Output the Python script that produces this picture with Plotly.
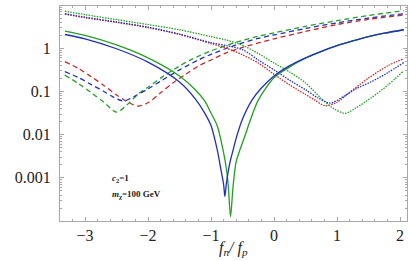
import plotly.graph_objects as go

# ---- data (y stored as log10 of the value) ----
solid_blue_x = [-3.32, -3.0, -2.5, -2.0, -1.5, -1.25, -1.1, -1.0, -0.9, -0.85, -0.8, -0.78, -0.755, -0.7,
                -0.65, -0.6, -0.5, -0.35, -0.2, 0.0, 0.25, 0.5, 0.75, 1.0, 1.25, 1.5, 1.75, 2.06]
solid_blue_log = [0.32, 0.22, -0.01, -0.32, -0.78, -1.17, -1.5, -1.79, -2.36, -2.75, -3.15, -3.43, -3.12, -2.65,
                  -2.36, -2.08, -1.64, -1.2, -0.92, -0.64, -0.40, -0.22, -0.07, 0.06, 0.17, 0.27, 0.35, 0.43]

solid_green_x = [-3.32, -3.0, -2.5, -2.0, -1.5, -1.25, -1.1, -1.0, -0.9, -0.8, -0.75, -0.725, -0.69, -0.65,
                 -0.6, -0.54, -0.45, -0.38, -0.25, 0.0, 0.25, 0.5, 0.75, 1.0, 1.25, 1.5, 1.75, 2.06]
solid_green_log = [0.40, 0.30, 0.08, -0.22, -0.64, -0.96, -1.22, -1.5, -1.8, -2.42, -2.85, -3.2, -3.9, -3.2,
                   -2.62, -2.35, -1.98, -1.68, -1.2, -0.68, -0.43, -0.23, -0.075, 0.06, 0.17, 0.27, 0.35, 0.43]

dashed_red_x = [-3.32, -3.1, -2.9, -2.7, -2.5, -2.35, -2.16, -2.0, -1.8, -1.6, -1.4, -1.2, -1.0, -0.75,
                -0.5, 0.0, 0.5, 1.0, 1.5, 2.06]
dashed_red_log = [-0.31, -0.47, -0.66, -0.86, -1.08, -1.22, -1.34, -1.26, -1.03, -0.80, -0.60, -0.41, -0.27, -0.10,
                  0.02, 0.22, 0.39, 0.55, 0.67, 0.77]

dashed_blue_x = [-3.32, -3.1, -2.9, -2.7, -2.55, -2.39, -2.2, -2.0, -1.8, -1.5, -1.2, -1.0, -0.6, -0.25,
                 0.0, 0.5, 1.0, 1.5, 2.06]
dashed_blue_log = [-0.54, -0.68, -0.84, -1.00, -1.13, -1.22, -1.10, -0.94, -0.76, -0.50, -0.27, -0.14, 0.08, 0.23,
                   0.31, 0.46, 0.59, 0.70, 0.80]

dashed_green_x = [-3.32, -3.1, -2.9, -2.7, -2.5, -2.35, -2.15, -2.0, -1.8, -1.5, -1.3, -1.0, -0.6, -0.25,
                  0.0, 0.5, 1.0, 1.5, 2.06]
dashed_green_log = [-0.62, -0.82, -1.03, -1.25, -1.48, -1.33, -1.05, -0.90, -0.69, -0.41, -0.25, -0.06, 0.14, 0.28,
                    0.36, 0.51, 0.64, 0.76, 0.87]

dotted_red_x = [-3.32, -3.0, -2.5, -2.0, -1.5, -1.0, -0.75, -0.5, -0.25, 0.0, 0.25, 0.5, 0.65, 0.81,
                1.0, 1.2, 1.5, 1.8, 2.06]
dotted_red_log = [0.79, 0.71, 0.60, 0.48, 0.32, 0.11, 0.0, -0.15, -0.34, -0.60, -0.85, -1.07, -1.20, -1.33,
                  -1.25, -1.02, -0.69, -0.41, -0.24]

dotted_blue_x = [-3.32, -3.0, -2.5, -2.0, -1.5, -1.0, -0.75, -0.5, -0.25, 0.0, 0.25, 0.5, 0.7, 0.89,
                 1.1, 1.3, 1.55, 1.8, 2.06]
dotted_blue_log = [0.80, 0.72, 0.61, 0.49, 0.33, 0.13, 0.06, -0.03, -0.27, -0.50, -0.74, -0.96, -1.15, -1.27,
                   -1.12, -0.94, -0.77, -0.57, -0.33]

dotted_green_x = [-3.32, -3.0, -2.5, -2.0, -1.5, -1.0, -0.75, -0.5, -0.25, 0.0, 0.25, 0.5, 0.75, 0.95,
                  1.13, 1.3, 1.55, 1.8, 2.06]
dotted_green_log = [0.86, 0.78, 0.665, 0.55, 0.43, 0.27, 0.19, 0.07, -0.12, -0.34, -0.55, -0.80, -1.16, -1.40,
                    -1.505, -1.38, -1.14, -0.86, -0.52]

x_tick_vals = [-3, -2, -1, 0, 1, 2]
x_tick_text = ["\u22123", "\u22122", "\u22121", "0", "1", "2"]
y_tick_vals = [0.001, 0.01, 0.1, 1]
y_tick_text = ["0.001", "0.01", "0.1", "1"]

RED = "#c62828"
BLUE = "#1f2fc0"
GREEN = "#22a022"
SERIF = "Liberation Serif, DejaVu Serif, Times New Roman, serif"

def pw(v):
    return [10 ** t for t in v]

fig = go.Figure()
W = 1.3
series = [
    (dashed_red_x, dashed_red_log, RED, "5px,3.5px"),
    (dashed_green_x, dashed_green_log, GREEN, "5px,3.5px"),
    (dashed_blue_x, dashed_blue_log, BLUE, "5px,3.5px"),
    (dotted_red_x, dotted_red_log, RED, "1.5px,1.2px"),
    (dotted_green_x, dotted_green_log, GREEN, "1.5px,1.2px"),
    (dotted_blue_x, dotted_blue_log, BLUE, "1.5px,1.2px"),
    (solid_green_x, solid_green_log, GREEN, "solid"),
    (solid_blue_x, solid_blue_log, BLUE, "solid"),
]
for xs, ys, col, dash in series:
    fig.add_trace(go.Scatter(x=xs, y=pw(ys), mode="lines",
                             line=dict(color=col, width=W, dash=dash, shape="spline", smoothing=0.8),
                             showlegend=False, hoverinfo="skip"))

FRAME = "#a8a8a8"
fig.update_xaxes(range=[-3.397, 2.111], tickvals=x_tick_vals, ticktext=x_tick_text, automargin=False,
                 showgrid=False, zeroline=False, showline=True, linecolor=FRAME, linewidth=1,
                 mirror="allticks", ticks="inside", ticklen=4, tickcolor=FRAME,
                 minor=dict(ticks="inside", dtick=0.2, ticklen=2, tickcolor=FRAME, showgrid=False),
                 tickfont=dict(family=SERIF, size=16, color="#222"))
fig.update_yaxes(type="log", range=[-4.0, 0.98], tickvals=y_tick_vals, ticktext=y_tick_text, automargin=False,
                 showgrid=False, zeroline=False, showline=True, linecolor=FRAME, linewidth=1,
                 mirror="allticks", ticks="inside", ticklen=4, tickcolor=FRAME,
                 minor=dict(ticks="inside", dtick="D1", ticklen=2, tickcolor=FRAME, showgrid=False),
                 tickfont=dict(family=SERIF, size=16, color="#222"), ticklabelstandoff=5)

fig.add_annotation(xref="paper", yref="paper", x=0.5, y=-0.13, xanchor="center", yanchor="middle",
                   text="<i>f</i><sub><i>n</i></sub><i>/ f</i><sub><i>p</i></sub>", showarrow=False,
                   font=dict(family=SERIF, size=16, color="#222"))
fig.add_annotation(xref="x", yref="y", x=-2.60, y=-3.02, xanchor="left", yanchor="middle",
                   text="<b><i>c</i><sub>2</sub>=1</b>", showarrow=False,
                   font=dict(family=SERIF, size=9, color="#222"))
fig.add_annotation(xref="x", yref="y", x=-2.60, y=-3.38, xanchor="left", yanchor="middle",
                   text="<b><i>m</i><sub>\u03c7</sub>=100 GeV</b>", showarrow=False,
                   font=dict(family=SERIF, size=9, color="#222"))

fig.update_layout(width=409, height=261, margin=dict(l=60, r=2, t=6, b=40),
                  paper_bgcolor="white", plot_bgcolor="white")
fig.write_html("out.html", config={"displayModeBar": False},
               post_script="document.body.style.margin='0';document.body.style.overflow='hidden';")
